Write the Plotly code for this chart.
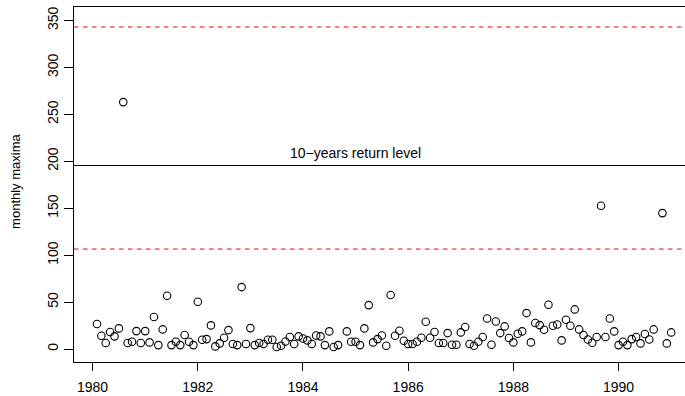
import numpy as np
import plotly.graph_objects as go

# Monthly maxima, Jan 1980 .. Dec 1990 (None = month not recorded)
monthly_maxima = [
    26.6, 14.2, 6.4, 18.1, 13.5, 22.0, 263.0, 6.4, 7.8, 19.1, 6.4, 19.1,
    7.1, 34.1, 4.2, 20.9, 56.8, 4.2, 7.8, 4.2, 14.9, 7.8, 4.2, 50.4,
    9.9, 10.6, 25.2, 2.8, 6.0, 12.0, 20.2, 5.3, 4.2, 66.0, 5.3, 22.3,
    4.2, 6.4, 5.3, 9.9, 9.9, 2.1, 3.5, 8.1, 12.8, 5.3, 13.5, 11.3,
    9.2, 5.3, 14.5, 13.5, 4.2, 18.8, 2.1, 4.2, None, 18.8, 7.8, 7.8,
    4.2, 22.0, 46.8, 7.1, 10.6, 14.5, 3.5, 57.5, 14.2, 19.5, 8.8, 5.3,
    5.3, 7.8, 12.0, 29.1, 12.0, 18.1, 6.4, 6.4, 17.0, 4.6, 4.6, 17.7,
    23.4, 5.3, 3.5, 7.8, 12.8, 32.6, 4.6, 29.4, 17.0, 24.1, 11.7, 7.1,
    16.3, 18.8, 38.3, 7.1, 27.7, 25.5, 20.6, 47.2, 24.8, 26.2, 9.2, 31.2,
    24.8, 42.2, 20.9, 14.9, 10.2, 6.7, 12.8, 152.6, 12.8, 32.6, 18.8, 4.2,
    7.8, 4.2, 10.6, 12.8, 6.0, 16.0, 10.2, 20.9, None, 144.8, 6.0, 17.7,
]
start_year = 1980
time = start_year + np.arange(1, len(monthly_maxima) + 1) / 12.0

# 10-year return level and its confidence bounds
return_level = 195.5
ci_lower = 106.5
ci_upper = 343.0
label_year = 1985
label_text = "10\u2212years return level"

x_ticks = [1980, 1982, 1984, 1986, 1988, 1990]
y_ticks = [0, 50, 100, 150, 200, 250, 300, 350]

FONT = "Liberation Sans, Arial, Helvetica, sans-serif"

# R-style axis extent: 4% padding on the left, plot runs off the right edge
span = time[-1] - time[0]
x_left = time[0] - 0.04 * span
x_right = x_left + 611 / 52.6

fig = go.Figure()
fig.add_trace(go.Scatter(
    x=time, y=monthly_maxima, mode="markers",
    marker=dict(symbol="circle-open", size=7.5, color="black",
                line=dict(color="black", width=1.1)),
    showlegend=False, hoverinfo="x+y",
))

fig.add_hline(y=return_level, line=dict(color="black", width=1.1))
for b in (ci_lower, ci_upper):
    fig.add_hline(y=b, line=dict(color="#f00000", width=1, dash="4.5px,4.5px"))

fig.add_annotation(
    x=label_year, y=return_level, text=label_text, showarrow=False,
    xanchor="center", yanchor="middle", yshift=12,
    font=dict(family=FONT, size=14, color="black"),
)

fig.add_annotation(
    xref="paper", yref="paper", x=-0.095, y=0.51,
    text="monthly maxima", textangle=-90, showarrow=False,
    xanchor="center", yanchor="middle",
    font=dict(family=FONT, size=13, color="black"),
)

fig.update_layout(
    width=685, height=396,
    margin=dict(l=74, r=0, t=7, b=34, autoexpand=False),
    paper_bgcolor="white", plot_bgcolor="white",
    font=dict(family=FONT, size=14, color="black"),
    xaxis=dict(
        range=[x_left, x_right], tickvals=x_ticks,
        ticktext=[str(v) for v in x_ticks],
        showgrid=False, zeroline=False, automargin=False,
        showline=True, linecolor="black", linewidth=1, mirror=True,
        ticks="outside", ticklen=8, tickcolor="black", tickwidth=1,
        ticklabelstandoff=4,
    ),
    yaxis=dict(
        range=[-13.8, 364.3], tickvals=y_ticks,
        ticktext=[str(v) for v in y_ticks], tickangle=-90,
        showgrid=False, zeroline=False, automargin=False,
        showline=True, linecolor="black", linewidth=1, mirror=False,
        ticks="outside", ticklen=9, tickcolor="black", tickwidth=1,
        ticklabelstandoff=0,
    ),
)

fig.write_html("out.html")
